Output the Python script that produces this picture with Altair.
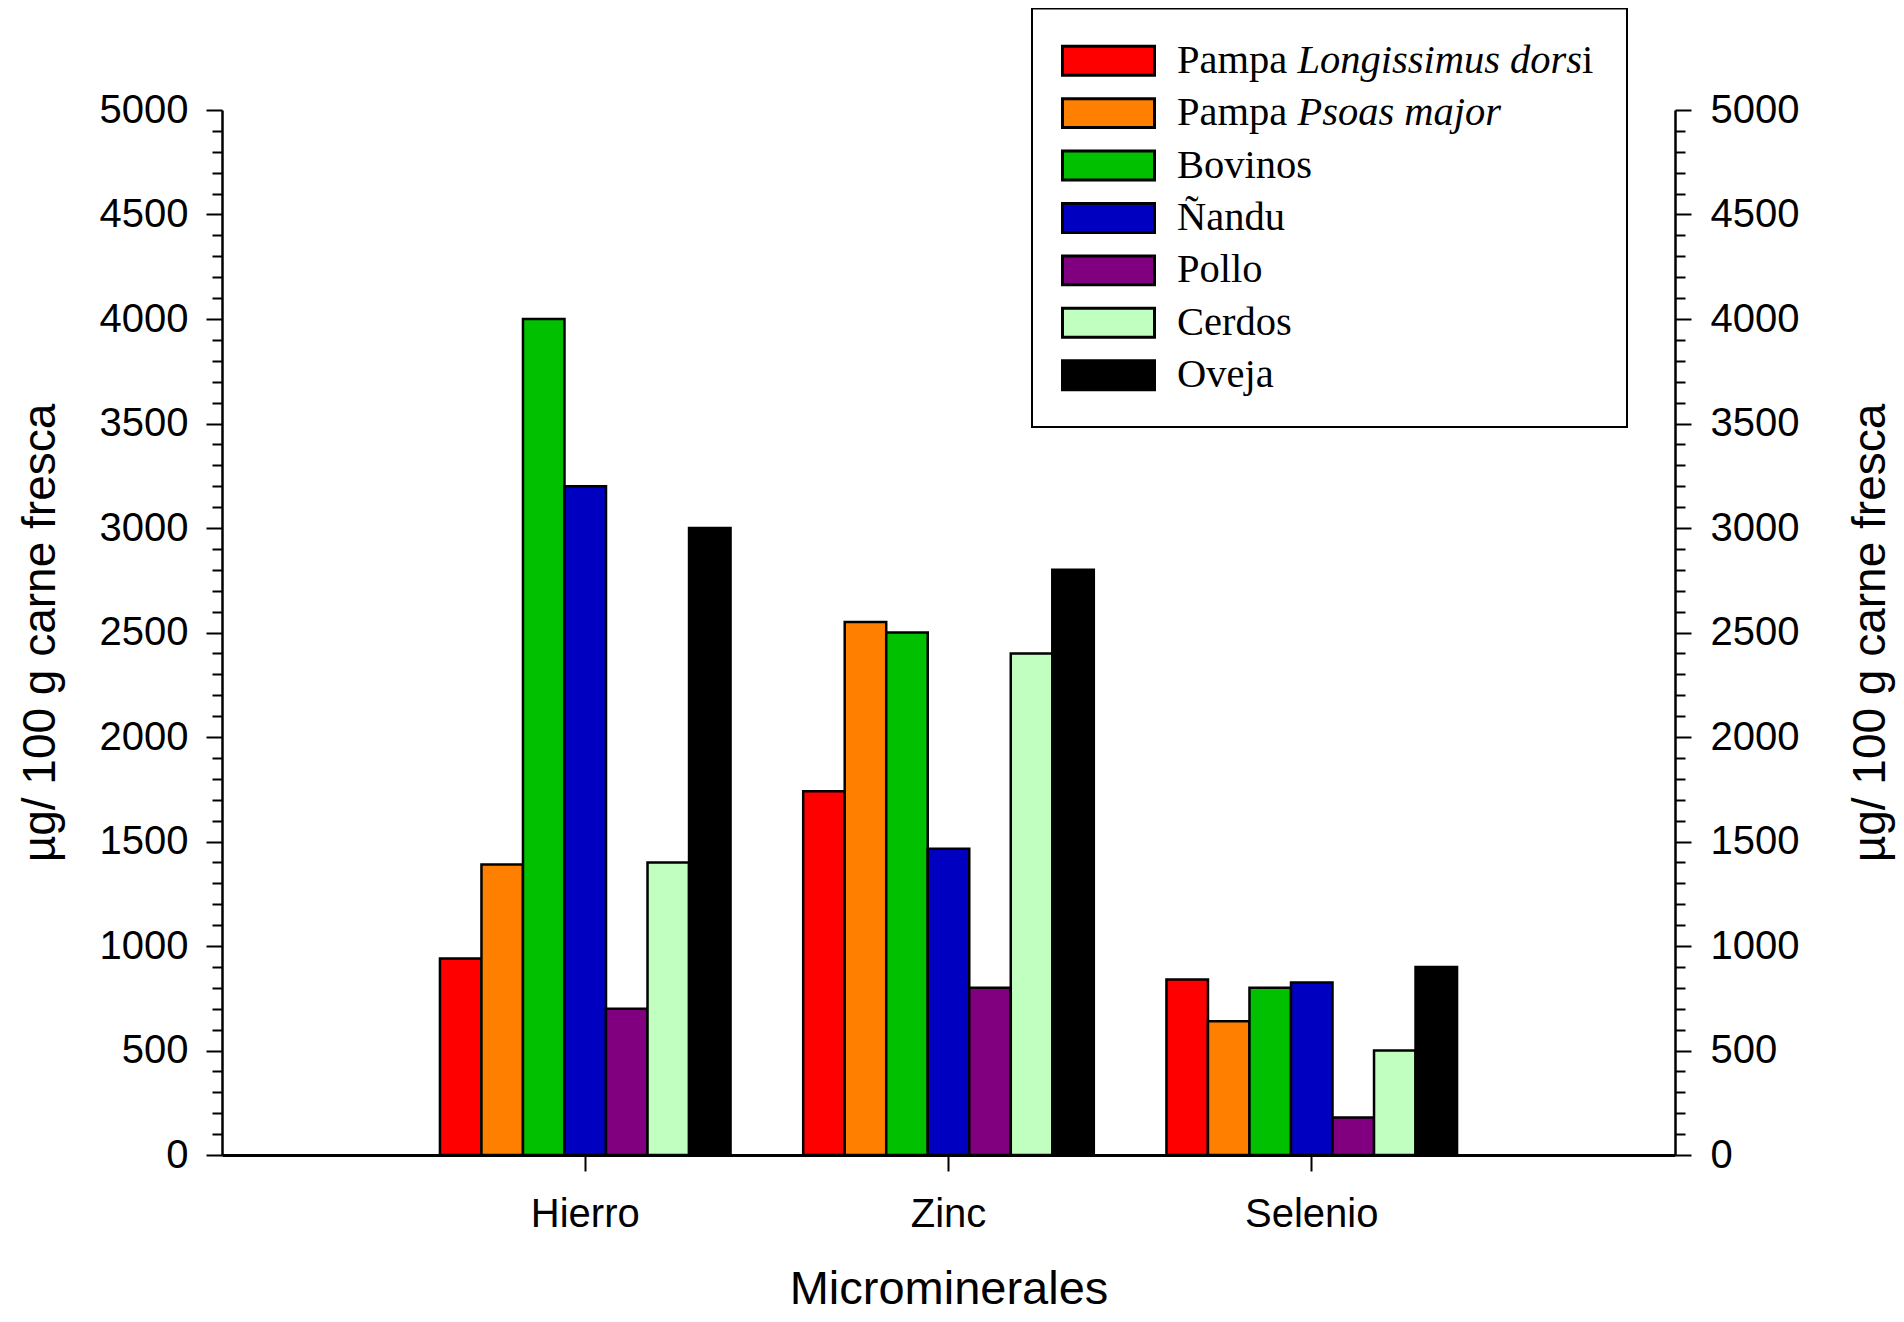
import altair as alt
import pandas as pd

# ---------------- data ----------------
MINERALS = ["Hierro", "Zinc", "Selenio"]
SERIES = ["Pampa Longissimus dorsi", "Pampa Psoas major", "Bovinos",
          "Ñandu", "Pollo", "Cerdos", "Oveja"]
COLORS = ["#FF0000", "#FF8000", "#00C000", "#0000C0", "#800080",
          "#C0FFC0", "#000000"]
HIERRO = [940, 1390, 4000, 3200, 700, 1400, 3000]
ZINC = [1740, 2550, 2500, 1465, 800, 2400, 2800]
SELENIO = [840, 640, 800, 825, 180, 500, 900]

Y_MAJOR = [0, 500, 1000, 1500, 2000, 2500, 3000, 3500, 4000, 4500, 5000]
Y_TICKS = list(range(0, 5001, 100))

# legend label pieces (regular / italic / regular)
LEG_REGULAR = ["Pampa", "Pampa", "Bovinos", "Ñandu", "Pollo", "Cerdos", "Oveja"]
LEG_ITALIC = ["Longissimus dors", "Psoas major", "", "", "", "", ""]
LEG_TAIL = ["i", "", "", "", "", "", ""]

Y_TITLE = "µg/ 100 g carne fresca"
X_TITLE = "Microminerales"

rows = []
for m, vals in zip(MINERALS, [HIERRO, ZINC, SELENIO]):
    for s, v in zip(SERIES, vals):
        rows.append({"mineral": m, "series": s, "value": v})
df = pd.DataFrame(rows)

legend_df = pd.DataFrame({"series": SERIES, "regular": LEG_REGULAR,
                          "italic": LEG_ITALIC, "tail": LEG_TAIL})
frame_df = pd.DataFrame({"box": ["legend"]})

# ---------------- layout ----------------
W, H = 1453, 1045
SANS = "Liberation Sans"
SERIF = "Liberation Serif"

major_test = "datum.value % 500 === 0"
tick_size = {"condition": {"test": major_test, "value": 16}, "value": 10}

y_scale = alt.Scale(domain=[0, 5000], nice=False, zero=True)
color_scale = alt.Scale(domain=SERIES, range=COLORS)


def y_axis(orient, title_x, pad):
    return alt.Axis(
        orient=orient, values=Y_TICKS, format="d",
        labelExpr=f"{major_test} ? datum.label : ''",
        tickSize=tick_size, tickWidth=2, tickColor="black",
        domainColor="black", domainWidth=2.5,
        labelFont=SANS, labelFontSize=40, labelColor="black",
        labelPadding=pad, labelOverlap=False, labelFlush=False,
        grid=False,
        title=Y_TITLE, titleFont=SANS, titleFontSize=46,
        titleFontWeight="normal", titleColor="black",
        titleAngle=270, titleBaseline="middle", titleAlign="center",
        titleX=title_x, titleY=H / 2,
    )


bars = alt.Chart(df).mark_bar(stroke="black", strokeWidth=2.5).encode(
    x=alt.X("mineral:N", sort=MINERALS,
            scale=alt.Scale(domain=MINERALS, paddingInner=0.2, paddingOuter=0.6),
            axis=alt.Axis(
                orient="bottom", labelAngle=0, labelFont=SANS, labelFontSize=40,
                labelColor="black", labelPadding=23,
                tickSize=16, tickWidth=2, tickColor="black",
                domainColor="black", domainWidth=3, grid=False,
                title=X_TITLE, titleFont=SANS, titleFontSize=47,
                titleFontWeight="normal", titleColor="black",
                titleBaseline="alphabetic", titleY=148,
            )),
    xOffset=alt.XOffset("series:N", sort=SERIES,
                        scale=alt.Scale(domain=SERIES, paddingInner=0, paddingOuter=0)),
    y=alt.Y("value:Q", scale=y_scale, axis=y_axis("left", -182, 18)),
    color=alt.Color("series:N", scale=color_scale, legend=None),
)

right_axis = alt.Chart(df).mark_point(opacity=0).encode(
    y=alt.Y("value:Q", scale=y_scale, axis=y_axis("right", 195, 19)),
)

# ---------------- custom legend ----------------
leg_y = alt.Y("series:N", sort=SERIES,
              scale=alt.Scale(type="point", domain=SERIES, range=[-49.3, 265.2], padding=0),
              axis=None)

frame = alt.Chart(frame_df).mark_rect(fill="white", stroke="black", strokeWidth=2).encode(
    x=alt.value(810), x2=alt.value(1405), y=alt.value(-101.5), y2=alt.value(317)
)

symbols = alt.Chart(legend_df).mark_point(
    shape="M-1,-0.315L1,-0.315L1,0.315L-1,0.315Z", size=8464, filled=True,
    opacity=1, stroke="black", strokeWidth=3,
).encode(
    x=alt.value(886.5), y=leg_y,
    color=alt.Color("series:N", scale=color_scale, legend=None),
)

LEG_X = 955
txt_kw = dict(align="left", baseline="middle", font=SERIF, fontSize=40.5, color="black")
t_regular = alt.Chart(legend_df).mark_text(**txt_kw).encode(
    x=alt.value(LEG_X), y=leg_y, text="regular:N")
t_italic = alt.Chart(legend_df).mark_text(fontStyle="italic", **txt_kw).encode(
    x=alt.value(LEG_X + 120.4), y=leg_y, text="italic:N")
t_tail = alt.Chart(legend_df).mark_text(**txt_kw).encode(
    x=alt.value(LEG_X + 120.4 + 284.7), y=leg_y, text="tail:N")

chart = alt.layer(
    bars, right_axis, frame, symbols, t_regular, t_italic, t_tail
).resolve_scale(
    y="independent"
).properties(
    width=W, height=H,
    autosize=alt.AutoSizeParams(type="none"),
    padding={"left": 214, "top": 102, "right": 221, "bottom": 159},
    background="white",
).configure_view(stroke=None)

chart.save("out.html", embed_options={"renderer": "svg", "actions": False})
